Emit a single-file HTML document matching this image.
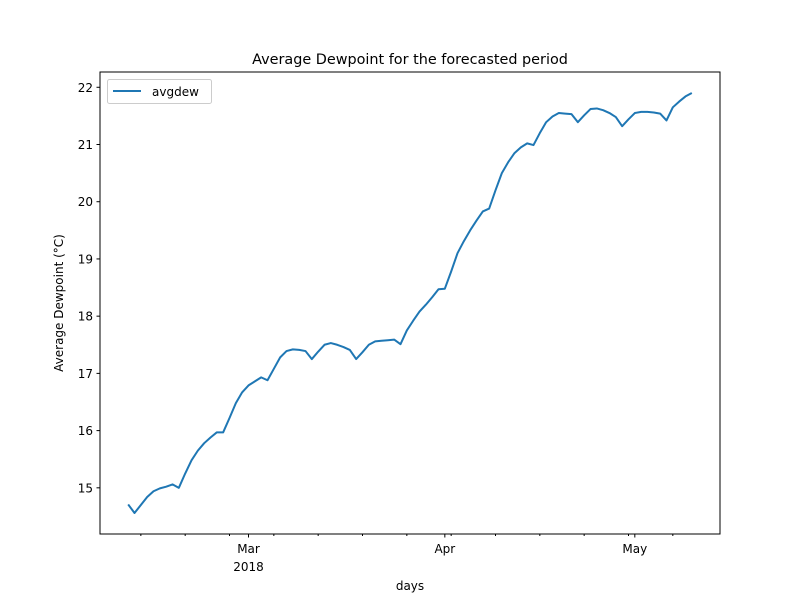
<!DOCTYPE html>
<html><head><meta charset="utf-8"><style>
body{margin:0;background:#fff;}
svg text{font-family:"DejaVu Sans","Liberation Sans",sans-serif;fill:#000;}
</style></head><body>
<svg id="chart" width="800" height="600" xmlns="http://www.w3.org/2000/svg">
<rect width="800" height="600" fill="#fff"/>
<text x="410" y="64" font-size="14.4" text-anchor="middle">Average Dewpoint for the forecasted period</text>
<g id="plot"></g>
<text x="410" y="590" font-size="12" text-anchor="middle">days</text>
<text transform="translate(63,303) rotate(-90)" font-size="12" text-anchor="middle">Average Dewpoint (°C)</text>
<g>
<rect x="107.5" y="79.5" width="104" height="24" rx="2" fill="#fff" stroke="#ccc"/>
<line x1="113" y1="91" x2="141" y2="91" stroke="#1f77b4" stroke-width="2"/>
<text x="152" y="96" font-size="12">avgdew</text>
</g>
</svg>
<script>
const days=[];for(let i=0;i<90;i++)days.push(i);
const avgdew=[14.71,14.56,14.70,14.84,14.94,14.99,15.02,15.06,15.00,15.25,15.48,15.65,15.78,15.88,15.97,15.97,16.22,16.48,16.67,16.79,16.86,16.93,16.88,17.08,17.28,17.39,17.42,17.41,17.39,17.25,17.38,17.50,17.53,17.50,17.46,17.41,17.25,17.37,17.50,17.56,17.57,17.58,17.59,17.51,17.75,17.92,18.08,18.20,18.33,18.47,18.48,18.78,19.10,19.31,19.50,19.67,19.83,19.88,20.20,20.50,20.69,20.85,20.95,21.02,20.99,21.20,21.39,21.49,21.55,21.54,21.53,21.39,21.51,21.62,21.63,21.60,21.55,21.48,21.32,21.44,21.55,21.57,21.57,21.56,21.54,21.42,21.65,21.75,21.84,21.90];
const yTicks=[15,16,17,18,19,20,21,22];
const majorDays=[19,50,80];
const majorLabels=["Mar","Apr","May"];
const minorDays=[2,9,16,23,30,37,44,51,58,65,72,79,86];
const L=100,R=720,T=72,B=534;
const dmin=0,dmax=days[days.length-1],dpad=(dmax-dmin)*0.05;
const vmin=Math.min(...avgdew),vmax=Math.max(...avgdew),vpad=(vmax-vmin)*0.05;
const xs=d=>L+(d-dmin+dpad)/(dmax-dmin+2*dpad)*(R-L);
const ys=v=>B-(v-vmin+vpad)/(vmax-vmin+2*vpad)*(B-T);
const NS="http://www.w3.org/2000/svg";
const g=document.getElementById('plot');
function mk(t,a){const e=document.createElementNS(NS,t);for(const k in a)e.setAttribute(k,a[k]);g.appendChild(e);return e;}
const frame=mk('rect',{x:L,y:T,width:R-L,height:B-T,fill:'none',stroke:'#000','stroke-width':1});


yTicks.forEach(v=>{const y=ys(v);
const t=mk('line',{x1:L-3.5,x2:L,y1:y,y2:y,stroke:'#000'});


const l=mk('text',{x:L-7,y:y+4.5,'font-size':12,'text-anchor':'end'});l.textContent=v;

});
minorDays.forEach(d=>{const x=xs(d);
const t=mk('line',{x1:x,x2:x,y1:B,y2:B+2,stroke:'#000'});

});
majorDays.forEach((d,i)=>{const x=xs(d);
const t=mk('line',{x1:x,x2:x,y1:B,y2:B+3.5,stroke:'#000'});


const l=mk('text',{x:x,y:B+19,'font-size':12,'text-anchor':'middle'});l.textContent=majorLabels[i];

});
const yr=mk('text',{x:xs(majorDays[0]),y:B+37,'font-size':12,'text-anchor':'middle'});yr.textContent='2018';


const line=mk('polyline',{points:days.map((d,i)=>xs(d)+','+ys(avgdew[i])).join(' '),fill:'none',stroke:'#1f77b4','stroke-width':2,'stroke-linejoin':'round'});


</script>
</body></html>
